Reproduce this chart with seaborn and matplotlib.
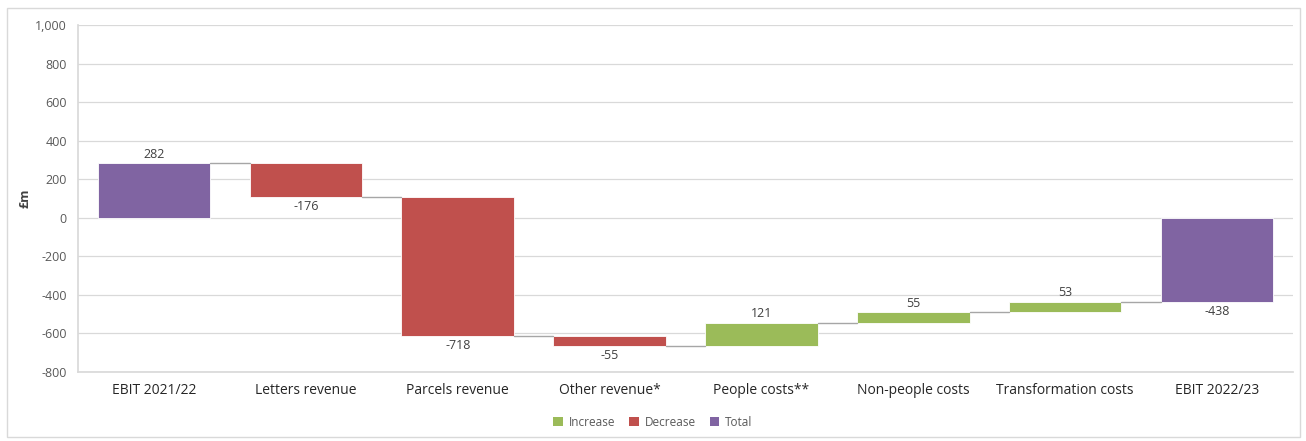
import numpy as np
import pandas as pd
import matplotlib
matplotlib.use("Agg")
import matplotlib.pyplot as plt
from matplotlib.patches import Patch, Rectangle
from matplotlib.ticker import FuncFormatter
import seaborn as sns

categories = ["EBIT 2021/22", "Letters revenue", "Parcels revenue", "Other revenue*",
              "People costs**", "Non-people costs", "Transformation costs", "EBIT 2022/23"]
values = [282, -176, -718, -55, 121, 55, 53, -438]
kinds = ["Total", "Decrease", "Decrease", "Decrease", "Increase", "Increase", "Increase", "Total"]
y_ticks = [-800, -600, -400, -200, 0, 200, 400, 600, 800, 1000]

colors = {"Increase": "#9BBB59", "Decrease": "#C0504D", "Total": "#8064A2"}

# waterfall geometry derived from values
bottoms, heights, ends = [], [], []
running = 0
for v, k in zip(values, kinds):
    if k == "Total":
        bottoms.append(0)
        heights.append(v)
        running = v
    else:
        bottoms.append(running)
        heights.append(v)
        running = running + v
    ends.append(running)

df = pd.DataFrame({"category": categories, "height": heights, "bottom": bottoms, "kind": kinds})

sns.set_theme(style="white")
plt.rcParams["font.family"] = ["Open Sans", "DejaVu Sans"]

fig = plt.figure(figsize=(13.06, 4.41), dpi=100)
ax = fig.add_axes([78 / 1306, 1 - 372 / 441, (1293 - 78) / 1306, (372 - 25) / 441])

width = 0.74
sns.barplot(data=df, x="category", y="height", bottom=df["bottom"].values, order=categories,
            color="#8064A2", width=width, errorbar=None, ax=ax, linewidth=0, saturation=1)
for patch, k in zip(ax.patches, kinds):
    patch.set_facecolor(colors[k])
    patch.set_edgecolor("white")
    patch.set_linewidth(0.6)

# connectors
for i in range(len(values) - 1):
    ax.plot([i + width / 2, i + 1 - width / 2], [ends[i], ends[i]], color="#A6A6A6", lw=1.0, zorder=1)

# data labels
for i, (v, b, k) in enumerate(zip(values, bottoms, kinds)):
    top = b + v
    if v >= 0:
        ax.annotate(f"{v}", (i, top), xytext=(0, 2), textcoords="offset points",
                    ha="center", va="bottom", fontsize=9, color="#404040")
    else:
        ax.annotate(f"{v}", (i, top), xytext=(0, -2), textcoords="offset points",
                    ha="center", va="top", fontsize=9, color="#404040")

ax.set_xlim(-0.5, len(categories) - 0.5)
ax.set_ylim(-800, 1000)
ax.set_yticks(y_ticks)
ax.yaxis.set_major_formatter(FuncFormatter(lambda x, p: f"{int(x):,}"))
ax.grid(axis="y", color="#D9D9D9", lw=0.9)
ax.set_axisbelow(True)
for s in ["top", "right"]:
    ax.spines[s].set_visible(False)
ax.spines["left"].set_color("#D9D9D9")
ax.spines["bottom"].set_color("#D9D9D9")
ax.tick_params(axis="y", labelsize=9, labelcolor="#595959", length=0, pad=8)
ax.tick_params(axis="x", labelsize=10, labelcolor="#262626", length=0, pad=8)
ax.set_xlabel("")
ax.set_ylabel("")
fig.text(25 / 1306, 1 - 198 / 441, "£m", rotation=90, ha="center", va="center",
         fontsize=9, color="#404040", fontweight="bold")

handles = [Patch(facecolor=colors[k], edgecolor="none", label=k) for k in ["Increase", "Decrease", "Total"]]
fig.legend(handles=handles, loc="center", bbox_to_anchor=(0.5, 1 - 422 / 441), ncol=3, frameon=False,
           fontsize=8.5, handlelength=0.8, handleheight=0.8, handletextpad=0.5, columnspacing=1.2,
           labelcolor="#595959")

fig.patches.append(Rectangle((7 / 1306, 4 / 441), 1293 / 1306, 429 / 441, transform=fig.transFigure,
                             fill=False, edgecolor="#D9D9D9", lw=1.0))

fig.savefig("out.png", dpi=100)
